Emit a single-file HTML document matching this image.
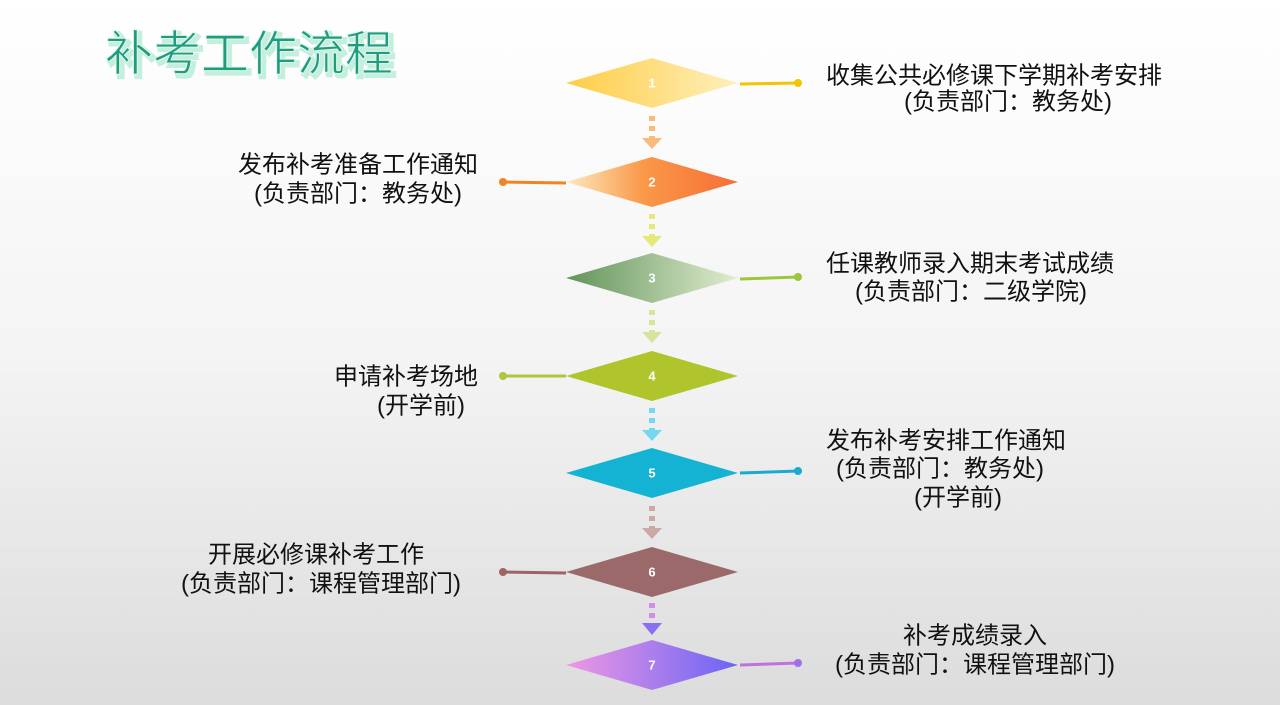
<!DOCTYPE html>
<html><head><meta charset="utf-8"><style>
html,body{margin:0;padding:0}
body{width:1280px;height:705px;overflow:hidden;background:linear-gradient(#ffffff 0%,#f4f4f4 50%,#dcdcdc 100%);}
svg{display:block}
text{font-family:"Liberation Sans","Noto Sans CJK SC",sans-serif}
</style></head><body>
<svg width="1280" height="705" viewBox="0 0 1280 705" xmlns="http://www.w3.org/2000/svg">
<defs>
<linearGradient id="g1" x1="0" x2="1"><stop offset="0" stop-color="#fdcd45"/><stop offset="1" stop-color="#ffefbd"/></linearGradient>
<linearGradient id="g2" x1="0" x2="1"><stop offset="0" stop-color="#fdeac0"/><stop offset="0.45" stop-color="#fa9848"/><stop offset="1" stop-color="#f66e36"/></linearGradient>
<linearGradient id="g3" x1="0" x2="1"><stop offset="0" stop-color="#62935a"/><stop offset="1" stop-color="#e0edcf"/></linearGradient>
<linearGradient id="g7" x1="0" x2="1"><stop offset="0" stop-color="#ee98e4"/><stop offset="1" stop-color="#6a64f4"/></linearGradient>
</defs>
<text x="105" y="70" font-size="48" fill="#c4efdd" stroke="#c4efdd" stroke-width="4" transform="translate(3,3)">补考工作流程</text>
<text x="105" y="70" font-size="48" fill="#1f9c80" stroke="#e0f7ec" stroke-width="1">补考工作流程</text>

<g stroke-width="6" stroke-dasharray="5,5">
<line x1="652" y1="116" x2="652" y2="140" stroke="#f9bb7c"/>
<line x1="652" y1="214" x2="652" y2="237" stroke="#e4e97a"/>
<line x1="652" y1="310" x2="652" y2="333" stroke="#d4e69c"/>
<line x1="652" y1="408" x2="652" y2="430" stroke="#76d8ef"/>
<line x1="652" y1="506" x2="652" y2="528" stroke="#cba9a6"/>
<line x1="652" y1="603" x2="652" y2="625" stroke="#d08ee8"/>
</g>
<polygon points="642,138 662,138 652,149" fill="#f9bb7c"/>
<polygon points="642,236 662,236 652,247" fill="#e4e97a"/>
<polygon points="642,332 662,332 652,343" fill="#d4e69c"/>
<polygon points="642,430 662,430 652,441" fill="#76d8ef"/>
<polygon points="642,528 662,528 652,539" fill="#cba9a6"/>
<polygon points="642,623 662,623 652,635" fill="#8a70f0"/>

<g stroke-width="3">
<line x1="740" y1="84" x2="798" y2="83" stroke="#f3c400"/>
<line x1="503" y1="182" x2="566" y2="183" stroke="#f28322"/>
<line x1="740" y1="279" x2="798" y2="277" stroke="#9ec53e"/>
<line x1="503" y1="376" x2="566" y2="376" stroke="#b0c53a"/>
<line x1="740" y1="473" x2="798" y2="471" stroke="#1aa9d2"/>
<line x1="503" y1="572" x2="566" y2="573" stroke="#9c6464"/>
<line x1="740" y1="665" x2="798" y2="663" stroke="#c070e0"/>
</g>
<circle cx="798" cy="83" r="4" fill="#f3c400"/>
<circle cx="503" cy="182" r="4" fill="#f28322"/>
<circle cx="798" cy="277" r="4" fill="#9ec53e"/>
<circle cx="503" cy="376" r="4" fill="#b0c53a"/>
<circle cx="798" cy="471" r="4" fill="#1aa9d2"/>
<circle cx="503" cy="572" r="4" fill="#9c6464"/>
<circle cx="798" cy="663" r="4" fill="#a070e8"/>

<polygon points="566,83 652,58 738,83 652,108" fill="url(#g1)"/>
<polygon points="566,182 652,157 738,182 652,207" fill="url(#g2)"/>
<polygon points="566,278 652,253 738,278 652,303" fill="url(#g3)"/>
<polygon points="566,376 652,351 738,376 652,401" fill="#afc52b"/>
<polygon points="566,473 652,448 738,473 652,498" fill="#15b3d3"/>
<polygon points="566,572 652,547 738,572 652,597" fill="#9b6969"/>
<polygon points="566,665 652,640 738,665 652,690" fill="url(#g7)"/>
<g fill="#fff" font-size="13" font-weight="bold" text-anchor="middle" dominant-baseline="central">
<text x="652" y="83">1</text><text x="652" y="182">2</text><text x="652" y="278">3</text><text x="652" y="376">4</text><text x="652" y="473">5</text><text x="652" y="572">6</text><text x="652" y="665">7</text>
</g>

<g fill="#111" font-size="24" text-anchor="middle" dominant-baseline="central">
<text x="994" y="76">收集公共必修课下学期补考安排</text>
<text x="1008" y="102">(负责部门：教务处)</text>
<text x="358" y="165">发布补考准备工作通知</text>
<text x="358" y="194">(负责部门：教务处)</text>
<text x="970" y="264">任课教师录入期末考试成绩</text>
<text x="971" y="292">(负责部门：二级学院)</text>
<text x="406" y="377">申请补考场地</text>
<text x="421" y="406">(开学前)</text>
<text x="946" y="441">发布补考安排工作通知</text>
<text x="940" y="469">(负责部门：教务处)</text>
<text x="958" y="498">(开学前)</text>
<text x="316" y="555">开展必修课补考工作</text>
<text x="321" y="584">(负责部门：课程管理部门)</text>
<text x="975" y="636">补考成绩录入</text>
<text x="975" y="665">(负责部门：课程管理部门)</text>
</g>
</svg>
</body></html>
